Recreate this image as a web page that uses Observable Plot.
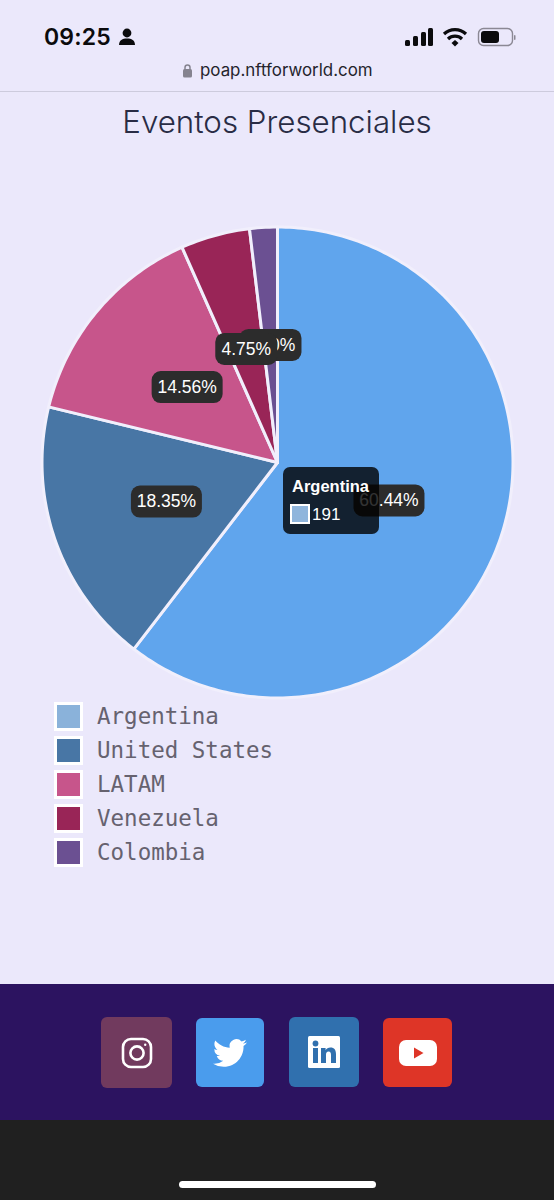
<!DOCTYPE html>
<html lang="es">
<head>
<meta charset="utf-8">
<title>Eventos Presenciales</title>
<script src="https://cdn.jsdelivr.net/npm/d3@7"></script>
<script src="https://cdn.jsdelivr.net/npm/@observablehq/plot@0.6"></script>
<style>
html,body{margin:0;padding:0;background:#ebe8fb;}
body{width:554px;height:1200px;position:relative;overflow:hidden;font-family:Inter,"Liberation Sans",sans-serif;}
.abs{position:absolute;}
#time{left:44px;top:21px;font-size:23px;font-weight:600;color:#0b0b0d;line-height:32px;letter-spacing:.2px;}
#url{left:200px;top:59px;width:190px;font-size:16.9px;color:#24242c;line-height:22px;}
#rule{left:0;top:91px;width:554px;height:1px;background:#cdcbdd;}
#title{left:0;top:100px;width:554px;text-align:center;font-size:31.3px;font-weight:300;color:#292c45;line-height:44px;}
#chart{left:0;top:150px;}
#chart svg{display:block;background:transparent;}
#tip{left:283px;top:467px;width:96px;height:67px;border-radius:7px;background:rgba(0,0,0,.8);color:#fff;font-family:"Liberation Sans",sans-serif;}
#tip b{position:absolute;left:9px;top:9px;font-size:16.5px;line-height:20px;}
#tip i{position:absolute;left:7px;top:37px;width:16px;height:16px;border:2.5px solid #fff;background:#8fb5dc;}
#tip span{position:absolute;left:29px;top:37px;font-size:17px;line-height:21px;}
#legend{left:54px;top:699px;font-family:"DejaVu Sans Mono",monospace;font-size:22.5px;color:#66626f;}
.row{height:34px;display:flex;align-items:center;}
.sw{width:23px;height:23px;border:3px solid #fff;margin-right:14px;flex:none;}
#footer{left:0;top:984px;width:554px;height:136px;background:#2c1360;}
#dark{left:0;top:1120px;width:554px;height:80px;background:#202020;}
#home{left:179px;top:1181px;width:197px;height:7px;border-radius:4px;background:#fff;}
.icon{border-radius:6px;display:flex;align-items:center;justify-content:center;}
</style>
</head>
<body>
<div class="abs" id="time">09:25</div>
<svg class="abs" style="left:119px;top:28px" width="17" height="18" viewBox="0 0 17 18"><circle cx="8" cy="5" r="4.4" fill="#0b0b0d"/><path d="M0 17c0-5 3.5-6.6 8-6.6s8 1.6 8 6.6z" fill="#0b0b0d"/></svg>
<svg class="abs" style="left:403px;top:24px" width="120" height="26" viewBox="0 0 120 26">
  <g fill="#0b0b0d"><rect x="2" y="16" width="5" height="6" rx="1.5"/><rect x="10" y="12" width="5" height="10" rx="1.5"/><rect x="18" y="8" width="5" height="14" rx="1.5"/><rect x="25" y="4" width="5" height="18" rx="1.5"/></g>
  <g fill="none" stroke="#0b0b0d" stroke-width="3.2"><path d="M41 10a16 16 0 0 1 22 0"/><path d="M45 15a10 10 0 0 1 14 0"/></g><path d="M48.500 19l3.500-3 3.500 3-3.500 3.600z" fill="#0b0b0d"/>
  <rect x="75.500" y="4.500" width="34" height="17" rx="5" fill="none" stroke="#8b8894" stroke-width="1.4"/><rect x="78" y="7" width="18" height="12" rx="3" fill="#0b0b0d"/><rect x="111" y="11" width="1.500" height="5" rx="1" fill="#8b8894"/>
</svg>
<svg class="abs" style="left:182px;top:63px" width="11" height="15" viewBox="0 0 11 15"><path d="M3 7V4.500a2.500 2.500 0 0 1 5 0V7" fill="none" stroke="#85838f" stroke-width="1.500"/><rect x="1" y="6" width="9" height="8.500" rx="1.500" fill="#85838f"/></svg>
<div class="abs" id="url">poap.nftforworld.com</div>
<div class="abs" id="rule"></div>
<div class="abs" id="title">Eventos Presenciales</div>
<div class="abs" id="chart"></div>
<div class="abs" id="tip"><b>Argentina</b><i></i><span>191</span></div>
<div class="abs" id="legend"></div>
<div class="abs" id="footer"></div>
<div class="abs" id="dark"></div>
<div class="abs" id="home"></div>
<div class="abs icon" style="left:101px;top:1017px;width:71px;height:71px;background:#713a5e">
  <svg width="32" height="32" viewBox="0 0 32 32" fill="none" stroke="#fff" stroke-width="2.600"><rect x="2" y="2" width="28" height="28" rx="8"/><circle cx="16" cy="16" r="6.600"/><circle cx="24.200" cy="7.800" r="1.200" fill="#fff" stroke="none"/></svg>
</div>
<div class="abs icon" style="left:196px;top:1018px;width:68px;height:69px;background:#4a9ced">
  <svg width="34" height="34" viewBox="0 0 24 24"><path fill="#fff" d="M23.953 4.57a10 10 0 01-2.825.775 4.958 4.958 0 002.163-2.723c-.951.555-2.005.959-3.127 1.184a4.92 4.92 0 00-8.384 4.482C7.69 8.095 4.067 6.13 1.64 3.162a4.822 4.822 0 00-.666 2.475c0 1.71.87 3.213 2.188 4.096a4.904 4.904 0 01-2.228-.616v.06a4.923 4.923 0 003.946 4.827 4.996 4.996 0 01-2.212.085 4.936 4.936 0 004.604 3.417 9.867 9.867 0 01-6.102 2.105c-.39 0-.779-.023-1.17-.067a13.995 13.995 0 007.557 2.209c9.053 0 13.998-7.496 13.998-13.985 0-.21 0-.42-.015-.63A9.935 9.935 0 0024 4.59z"/></svg>
</div>
<div class="abs icon" style="left:289px;top:1017px;width:70px;height:70px;background:#3070ae">
  <svg width="32" height="32" viewBox="0 0 32 32"><rect width="32" height="32" rx="1.500" fill="#fff"/><g fill="#3070ae"><rect x="5" y="12" width="5" height="15"/><circle cx="7.500" cy="7.500" r="2.900"/><path d="M13 12h4.600v2.200c1-1.600 2.600-2.600 4.800-2.600 4 0 5.600 2.600 5.600 6.600V27h-5v-8c0-2-.6-3.400-2.400-3.400-2 0-2.600 1.500-2.600 3.400v8h-5z"/></g></svg>
</div>
<div class="abs icon" style="left:383px;top:1018px;width:69px;height:69px;background:#de3527">
  <svg width="38" height="26" viewBox="0 0 38 26"><rect width="38" height="26" rx="7" fill="#fff"/><path d="M15 7.500l9.500 5.500-9.500 5.500z" fill="#de3527"/></svg>
</div>
<script>
const countries = ["Argentina", "United States", "LATAM", "Venezuela", "Colombia"];
const counts = [191, 58, 46, 15, 6];
const percentLabels = ["60.44%", "18.35%", "14.56%", "4.75%", "1.90%"];
const pieColors = ["#60a5ed", "#4876a5", "#c7558b", "#992557", "#6b5092"];
const legendColors = ["#8ab2da", "#4876a5", "#c7558b", "#992557", "#6b5092"];

const total = d3.sum(counts);
const R = 235.5;
const polar = (fraction, r) => {
  const a = fraction * 2 * Math.PI;
  return {x: r * Math.sin(a), y: r * Math.cos(a)};
};

let cum = 0;
const slicePoints = [];
const labelRows = [];
countries.forEach((name, i) => {
  const start = cum / total, end = (cum + counts[i]) / total;
  slicePoints.push({name, ...polar(0, 0)});
  const steps = Math.ceil((end - start) * 360);
  for (let s = 0; s <= steps; ++s) {
    slicePoints.push({name, ...polar(start + (end - start) * s / steps, R)});
  }
  labelRows.push({text: percentLabels[i], ...polar((start + end) / 2, R / 2)});
  cum += counts[i];
});

const roundBox = (w, h, r) => ({
  draw(c) {
    const x = w / 2, y = h / 2;
    c.moveTo(-x + r, -y);
    c.arcTo(x, -y, x, y, r);
    c.arcTo(x, y, -x, y, r);
    c.arcTo(-x, y, -x, -y, r);
    c.arcTo(-x, -y, x, -y, r);
    c.closePath();
  }
});

const labelMarks = labelRows.slice().reverse().flatMap((d) => [
  Plot.dot([d], {x: "x", y: "y", symbol: roundBox(d.text.length > 5 ? 71 : 62, 32, 9), fill: "#2c2c2c", stroke: "none"}),
  Plot.text([d], {x: "x", y: "y", text: "text", fill: "#fff", fontSize: 17.5, fontFamily: "Liberation Sans, sans-serif"})
]);

const plot = Plot.plot({
  width: 554,
  height: 550,
  margin: 0,
  style: {background: "transparent", overflow: "visible"},
  x: {axis: null, domain: [-277, 277]},
  y: {axis: null, domain: [-238, 312]},
  color: {domain: countries, range: pieColors},
  marks: [
    Plot.line(slicePoints, {
      x: "x", y: "y", z: "name", fill: "name",
      stroke: "#f1effc", strokeWidth: 3, strokeLinejoin: "round",
      curve: "linear-closed", sort: null
    }),
    ...labelMarks
  ]
});
document.getElementById("chart").append(plot);

const legend = d3.select("#legend");
countries.forEach((name, i) => {
  const row = legend.append("div").attr("class", "row");
  row.append("div").attr("class", "sw").style("background", legendColors[i]);
  row.append("div").text(name);
});
</script>
</body>
</html>
